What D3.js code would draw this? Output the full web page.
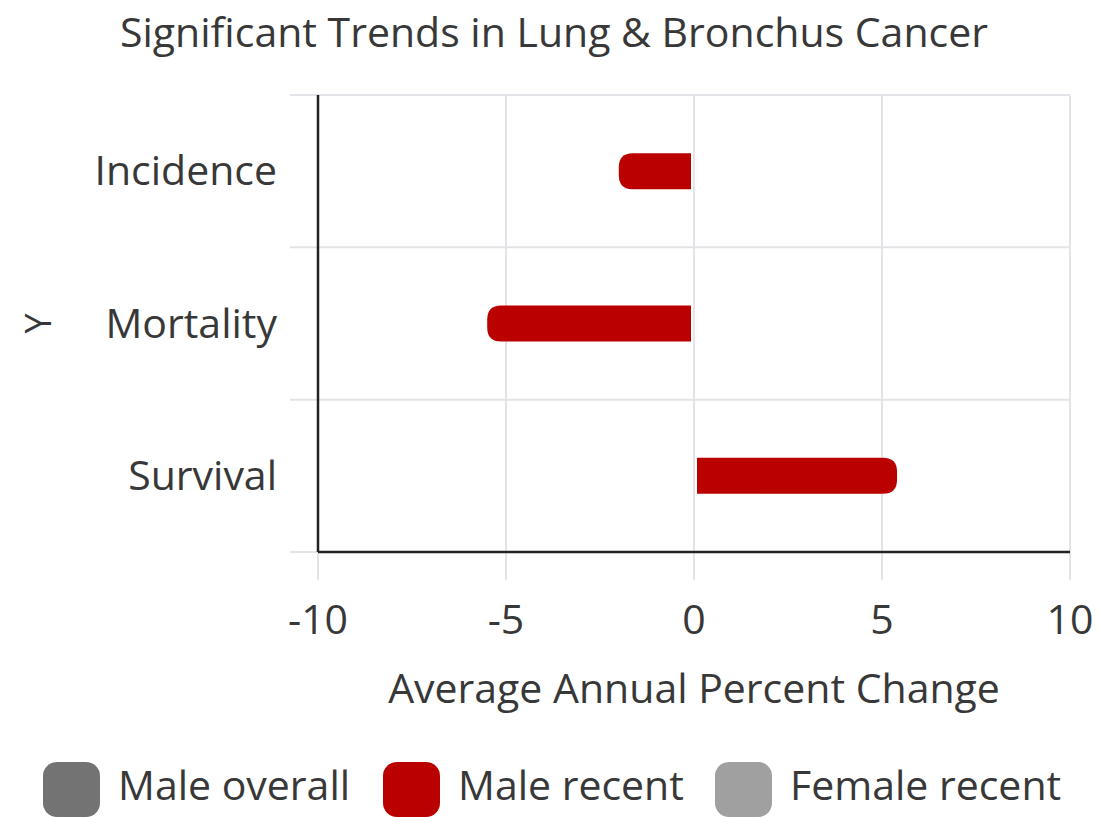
<!doctype html>
<html>
<head>
<style>
  body { margin: 0; background: #fff; }
  text { font-family: "Open Sans", "Noto Sans", sans-serif; fill: #383838; }
</style>
<script src="https://d3js.org/d3.v7.min.js"></script>
</head>
<body>
<svg width="1099" height="817"></svg>
<script>
// data
var categories = ["Incidence", "Mortality", "Survival"];
var maleRecent = [-2.0, -5.5, 5.4];
var xTicks = [-10, -5, 0, 5, 10];
var legendNames = ["Male overall", "Male recent", "Female recent"];
var legendColors = ["#737373", "#bb0000", "#a0a0a0"];

var svg = d3.select("svg");
var plotLeft = 318, plotRight = 1070, plotTop = 95, plotBottom = 552;
var tick = 28;
var fs = "41px";

var x = d3.scaleLinear().domain([-10, 10]).range([plotLeft, plotRight]);
var y = d3.scaleBand().domain(categories).range([plotTop, plotBottom]).padding(0);

// vertical grid
svg.append("g").selectAll("line")
  .data(xTicks).enter().append("line")
  .attr("x1", d => x(d)).attr("x2", d => x(d))
  .attr("y1", plotTop).attr("y2", plotBottom + tick)
  .attr("stroke", "#e4e4e8").attr("stroke-width", 2);

// horizontal grid (band edges)
var edges = categories.map(c => y(c)).concat([plotBottom]);
svg.append("g").selectAll("line")
  .data(edges).enter().append("line")
  .attr("x1", plotLeft - tick).attr("x2", plotRight)
  .attr("y1", d => d).attr("y2", d => d)
  .attr("stroke", "#e4e4e8").attr("stroke-width", 2);

// axes lines
svg.append("line").attr("x1", plotLeft).attr("x2", plotLeft)
  .attr("y1", plotTop).attr("y2", plotBottom)
  .attr("stroke", "#222").attr("stroke-width", 2.5);
svg.append("line").attr("x1", plotLeft).attr("x2", plotRight)
  .attr("y1", plotBottom).attr("y2", plotBottom)
  .attr("stroke", "#222").attr("stroke-width", 2.5);

// bars, rounded at the far end
var barH = 36, r = 14;
function barPath(v, cy) {
  var s = v < 0 ? -1 : 1;
  var x0 = x(0) + s * 3, x1 = x(v), t = cy - barH / 2, b = cy + barH / 2;
  return "M" + x0 + "," + t +
    "L" + (x1 - s * r) + "," + t +
    "Q" + x1 + "," + t + " " + x1 + "," + (t + r) +
    "L" + x1 + "," + (b - r) +
    "Q" + x1 + "," + b + " " + (x1 - s * r) + "," + b +
    "L" + x0 + "," + b + "Z";
}
svg.append("g").selectAll("path")
  .data(categories).enter().append("path")
  .attr("d", (c, i) => barPath(maleRecent[i], y(c) + y.bandwidth() / 2))
  .attr("fill", "#bb0000");

// category labels
svg.append("g").selectAll("text")
  .data(categories).enter().append("text")
  .attr("x", 277).attr("y", c => y(c) + y.bandwidth() / 2 + 14)
  .attr("text-anchor", "end")
  .style("font-size", fs).text(c => c);

// tick labels
svg.append("g").selectAll("text")
  .data(xTicks).enter().append("text")
  .attr("x", d => x(d)).attr("y", 634)
  .attr("text-anchor", "middle")
  .style("font-size", fs).text(d => d);

// titles
svg.append("text").attr("x", 554).attr("y", 47)
  .attr("text-anchor", "middle").style("font-size", fs)
  .text("Significant Trends in Lung & Bronchus Cancer");
svg.append("text").attr("x", x(0)).attr("y", 703)
  .attr("text-anchor", "middle").style("font-size", fs)
  .text("Average Annual Percent Change");
svg.append("text")
  .attr("transform", "translate(38," + (y("Mortality") + y.bandwidth() / 2) + ") rotate(-90)")
  .attr("text-anchor", "middle").attr("dy", "0.35em")
  .style("font-size", "36px").text("Y");

// legend
var legendX = [43, 383, 715];
var lg = svg.append("g").selectAll("g")
  .data(legendNames).enter().append("g")
  .attr("transform", (d, i) => "translate(" + legendX[i] + ",762)");
lg.append("rect").attr("width", 57).attr("height", 55)
  .attr("rx", 14).attr("fill", (d, i) => legendColors[i]);
lg.append("text").attr("x", 75).attr("y", 38)
  .style("font-size", fs).text(d => d);
</script>
</body>
</html>
